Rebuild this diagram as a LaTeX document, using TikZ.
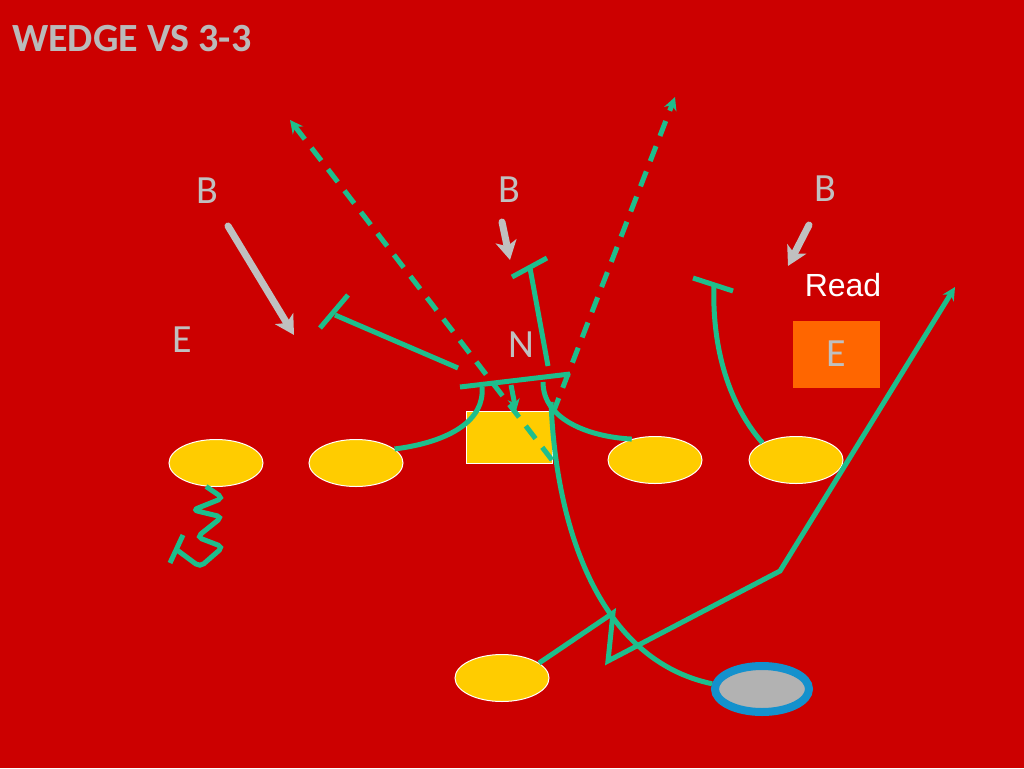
\documentclass[tikz,border=0pt]{standalone}
\usepackage{fontspec}
\setmainfont{Carlito}
\newfontfamily\readfont{Liberation Sans}
\usetikzlibrary{arrows.meta,shapes.geometric}
\definecolor{field}{RGB}{204,0,0}
\definecolor{route}{RGB}{30,190,140}
\definecolor{gold}{RGB}{255,204,0}
\definecolor{defgrey}{RGB}{192,192,192}
\definecolor{titlegrey}{RGB}{186,186,186}
\definecolor{readorange}{RGB}{255,102,0}
\definecolor{qbblue}{RGB}{20,145,205}
\definecolor{qbgrey}{RGB}{178,178,178}

\begin{document}
\begin{tikzpicture}[x=1pt, y=-1pt,
	lineman/.style={ellipse, draw=white, line width=1pt, fill=gold, minimum width=94pt, minimum height=47pt, inner sep=0},
	defender/.style={text=defgrey, font=\fontsize{40}{40}\selectfont, inner sep=0},
	rte/.style={draw=route, line width=5pt},
	rtedash/.style={rte, dash pattern=on 16pt off 11pt, -{Stealth[length=13pt,width=13pt]}},
	rush/.style={draw=defgrey, line width=7pt, line cap=round, -{Stealth[length=19pt,width=21pt,inset=5pt]}}]
		\fill[field] (0,0) rectangle (1024,768);
		\useasboundingbox (0,0) rectangle (1024,768);
		\node[anchor=west, text=titlegrey, font=\bfseries\fontsize{40}{40}\selectfont, inner sep=0] (title) at (12,39) {WEDGE VS 3-3};
		% offense
		\node[lineman] (lt) at (216,463) {};
		\node[lineman] (lg) at (356,463) {};
		\node[rectangle, draw=white, line width=1pt, fill=gold, minimum width=86pt, minimum height=52pt] (ctr) at (509,437) {};
		\node[lineman] (rg) at (655,460) {};
		\node[lineman] (rt) at (796,460) {};
		\node[lineman] (fb) at (502,678) {};
		\node[ellipse, draw=qbblue, line width=8pt, fill=qbgrey, minimum width=94pt, minimum height=46pt] (qb) at (762,689) {};
		% defense
		\node[defender] (lb1) at (207,191) {B};
		\node[defender] (lb2) at (509,190) {B};
		\node[defender] (lb3) at (825,189) {B};
		\node[defender] (le) at (182,340) {E};
		\node[defender] (nose) at (521,345) {N};
		\node[rectangle, fill=readorange, minimum width=87pt, minimum height=67pt, text=defgrey, font=\fontsize{40}{40}\selectfont] (re) at (836,354) {E};
		\node[text=white, font=\readfont\fontsize{32}{32}\selectfont, inner sep=0] (read) at (843,285) {Read};
		% linebacker rush
		\draw[rush] (228,226) -- (294,335);
		\draw[rush] (502,222) -- (510,260);
		\draw[rush] (809,225) -- (788,266);
		% blocks
		\draw[rte, rounded corners=5pt] (lt.247) -- (223,498) -- (193,510) -- (222,517) -- (197,537) -- (223,547) -- (200,567) -- (177,550);
		\draw[rte] (183,535) -- (170,563);
		\draw[rte] (458,368) -- (335,315);
		\draw[rte] (320,328) -- (348,295);
		\draw[rte] (lg.20) .. controls (450,442) and (485,420) .. (482,387);
		\draw[rte] (460,387) -- (570,374);
		\draw[rte, -{Stealth[length=12pt,width=12pt]}] (511,385) -- (516,411);
		\draw[rte] (548,366) -- (530,268);
		\draw[rte] (512,277) -- (547,258);
		\draw[rte] (543,382) .. controls (543,420) and (590,437) .. (rg.138);
		\draw[rte] (rt.153) .. controls (725,400) and (712,340) .. (714,285);
		\draw[rte] (693,278) -- (733,291);
		% backfield
		\draw[rtedash] (552,460) -- (290,120);
		\draw[rtedash] (553,413) -- (675,97);
		\draw[rte] (551,402) .. controls (556,530) and (600,660) .. (qb.174);
		\draw[rte, -{Stealth[length=13pt,width=13pt]}] (fb.22) -- (613,613) -- (608,661) -- (780,571) -- (955,287);
		\end{tikzpicture}
\end{document}
